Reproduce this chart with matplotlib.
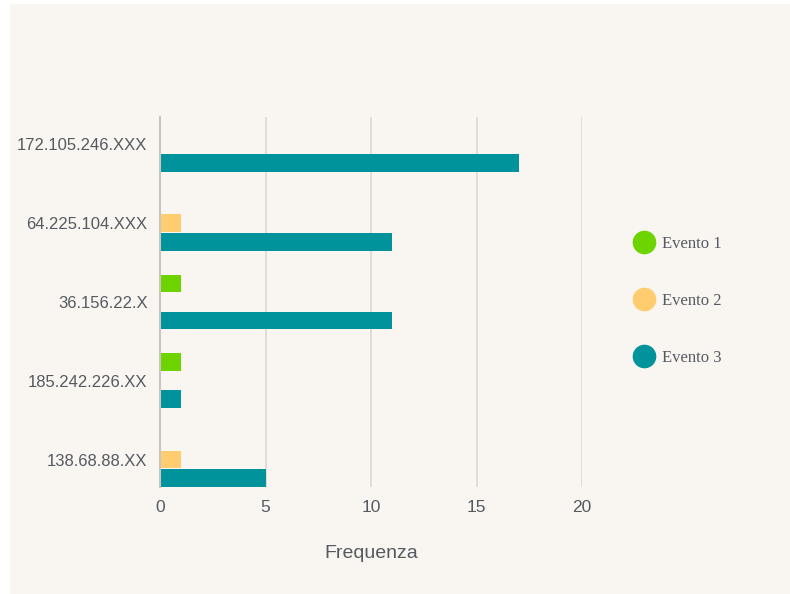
import matplotlib.pyplot as plt
from matplotlib.patches import Rectangle
from matplotlib.lines import Line2D
import numpy as np

# dati
categorie = ['172.105.246.XXX', '64.225.104.XXX', '36.156.22.X',
             '185.242.226.XX', '138.68.88.XX']
evento1 = [0, 0, 1, 1, 0]
evento2 = [0, 1, 0, 0, 1]
evento3 = [17, 11, 11, 1, 5]
serie = ['Evento 1', 'Evento 2', 'Evento 3']
colori = ['#6dd400', '#ffcd70', '#00939c']
xticks = [0, 5, 10, 15, 20]

bg = '#f9f6f1'
grigio = '#555a60'

fig = plt.figure(figsize=(7.9, 5.94), dpi=100, facecolor='white')
fig.patches.append(Rectangle((10 / 790, 0), 1, 1 - 4 / 594, transform=fig.transFigure,
                             facecolor=bg, edgecolor='none', zorder=-10))

ax = fig.add_axes([160 / 790, 1 - 487 / 594, (582 - 160) / 790, (487 - 117) / 594])
ax.set_facecolor(bg)

y = np.arange(len(categorie))
slot = 0.235
h = 0.225
for i, (vals, col) in enumerate(zip([evento1, evento2, evento3], colori)):
    ax.barh(y + (i - 1) * slot, vals, height=h, color=col, zorder=3)

ax.set_ylim(len(categorie) - 1 + slot + h / 2, -slot - h / 2)
ax.set_xlim(0, 20)
ax.set_yticks(y)
ax.set_yticklabels(categorie, fontsize=12, color=grigio, family='Liberation Sans')
ax.set_xticks(xticks)
ax.set_xticklabels([str(t) for t in xticks], fontsize=12.5, color=grigio, family='Liberation Sans')
ax.tick_params(length=0, pad=9)
ax.tick_params(axis='y', pad=9)
ax.grid(axis='x', color='#dcd9d4', linewidth=1.2, zorder=0)
for s in ['top', 'right', 'bottom']:
    ax.spines[s].set_visible(False)
ax.spines['left'].set_color('#c9c6c1')
ax.spines['left'].set_linewidth(1.5)
ax.spines['left'].set_zorder(4)

ax.set_xlabel('Frequenza', fontsize=14, color=grigio, family='Liberation Sans', labelpad=22)

handles = [Line2D([], [], marker='o', linestyle='none', markersize=16,
                  markerfacecolor=c, markeredgecolor=c) for c in colori]
leg = fig.legend(handles, serie, loc='center left', bbox_to_anchor=(619 / 790, 1 - 301 / 594),
                 frameon=False, labelspacing=2.45, handlelength=1.2, handletextpad=0.5,
                 prop={'family': 'Liberation Serif', 'size': 12})
for t in leg.get_texts():
    t.set_color(grigio)

fig.savefig('out.png', dpi=100, facecolor='white')
